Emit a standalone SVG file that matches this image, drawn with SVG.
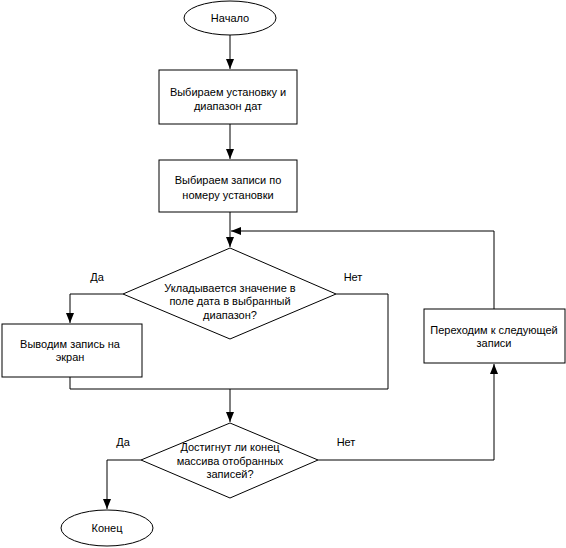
<svg xmlns="http://www.w3.org/2000/svg" width="566" height="548" viewBox="0 0 566 548">
<style>
.s{fill:#fff;stroke:#000;stroke-width:1}
.t{font-family:"Liberation Sans",Arial,sans-serif;font-size:11px;fill:#000;text-anchor:middle}
.c{fill:none;stroke:#000;stroke-width:1}
</style>
<defs>
<marker id="a" viewBox="0 0 10 8" refX="10" refY="4" markerWidth="10" markerHeight="8" markerUnits="userSpaceOnUse" orient="auto">
<path d="M0,0 L10,4 L0,8 z" fill="#000"/>
</marker>
</defs>
<rect width="566" height="548" fill="#fff"/>
<g id="connectors">
<path class="c" d="M230,35 V69" marker-end="url(#a)"/>
<path class="c" d="M230,124 V159" marker-end="url(#a)"/>
<path class="c" d="M230,212 V247" marker-end="url(#a)"/>
<path class="c" d="M494,309 V231 H231" marker-end="url(#a)"/>
<path class="c" d="M123,294 H70 V323" marker-end="url(#a)"/>
<path class="c" d="M336,294 H388 V389 H70 V377"/>
<path class="c" d="M230,389 V422" marker-end="url(#a)"/>
<path class="c" d="M141,460 H107 V509" marker-end="url(#a)"/>
<path class="c" d="M318,460 H494 V364" marker-end="url(#a)"/>
</g>
<g id="start">
<ellipse class="s" cx="230" cy="18" rx="46" ry="17"/>
<text class="t" x="230" y="22">Начало</text>
</g>
<g id="box1">
<rect class="s" x="159" y="70" width="138" height="54"/>
<text class="t" x="228" y="96">Выбираем установку и</text>
<text class="t" x="228" y="110">диапазон дат</text>
</g>
<g id="box2">
<rect class="s" x="159" y="160" width="138" height="52"/>
<text class="t" x="228" y="184">Выбираем записи по</text>
<text class="t" x="228" y="199">номеру установки</text>
</g>
<g id="dec1">
<polygon class="s" points="230,248 336,294 230,339 123,294"/>
<text class="t" x="230" y="292">Укладывается значение в</text>
<text class="t" x="230" y="305">поле дата в выбранный</text>
<text class="t" x="230" y="319">диапазон?</text>
</g>
<text class="t" x="97" y="281">Да</text>
<text class="t" x="353" y="281">Нет</text>
<g id="box3">
<rect class="s" x="2" y="324" width="140" height="53"/>
<text class="t" x="70" y="348">Выводим запись на</text>
<text class="t" x="70" y="361">экран</text>
</g>
<g id="box4">
<rect class="s" x="424" y="309" width="141" height="54"/>
<text class="t" x="494" y="334">Переходим к следующей</text>
<text class="t" x="494" y="347">записи</text>
</g>
<g id="dec2">
<polygon class="s" points="230,423 318,460 230,498 141,460"/>
<text class="t" x="230" y="451">Достигнут ли конец</text>
<text class="t" x="230" y="465">массива отобранных</text>
<text class="t" x="230" y="478">записей?</text>
</g>
<text class="t" x="123" y="446">Да</text>
<text class="t" x="346" y="446">Нет</text>
<g id="end">
<ellipse class="s" cx="107" cy="528" rx="46" ry="18"/>
<text class="t" x="107" y="532">Конец</text>
</g>
</svg>
